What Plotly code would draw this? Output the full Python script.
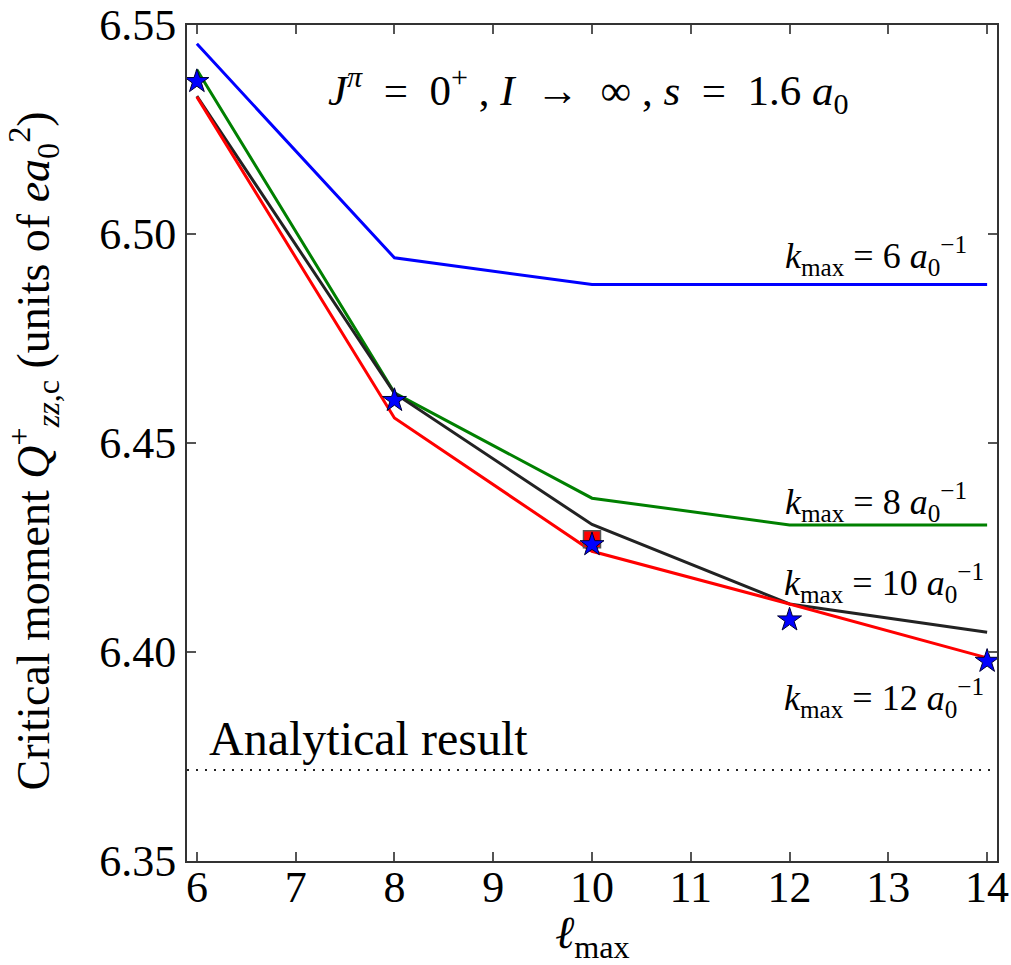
import plotly.graph_objects as go

# ---- data ----
l_max = [6, 8, 10, 12, 14]
k6 = [6.5455, 6.4943, 6.4879, 6.4879, 6.4879]
k8 = [6.5393, 6.4620, 6.4368, 6.4304, 6.4304]
k10 = [6.5330, 6.4619, 6.4305, 6.4115, 6.4047]
k12 = [6.5328, 6.4560, 6.4241, 6.4115, 6.3986]
star_x = [6, 8, 10, 12, 14]
star_y = [6.5365, 6.4602, 6.4257, 6.4077, 6.3978]
square_x = [10]
square_y = [6.4270]
analytical = 6.3718

x_ticks = [6, 7, 8, 9, 10, 11, 12, 13, 14]
y_ticks = [6.35, 6.40, 6.45, 6.50, 6.55]

FONT = "Liberation Serif"
NB = "\u00a0"

fig = go.Figure()
for ys, col in [(k6, "#0000ff"), (k8, "#008000"), (k10, "#222222"), (k12, "#ff0000")]:
    fig.add_trace(go.Scatter(x=l_max, y=ys, mode="lines",
                             line=dict(color=col, width=3), showlegend=False))
fig.add_trace(go.Scatter(x=square_x, y=square_y, mode="markers",
                         marker=dict(symbol="square", size=17, color="#ff0000",
                                     line=dict(color="#555555", width=1.5)),
                         showlegend=False))
fig.add_trace(go.Scatter(x=star_x, y=star_y, mode="markers",
                         marker=dict(symbol="star", size=18, color="#0000ff",
                                     line=dict(color="#000033", width=1)),
                         showlegend=False))

fig.add_hline(y=analytical, line=dict(color="#222222", width=2, dash="2px,7px"))

ann_font = dict(family=FONT, size=36, color="black")
title_txt = (f"<i>J</i><sup><i>π</i></sup>{NB}{NB}={NB}{NB}0<sup>+</sup>{NB},{NB}<i>I</i>{NB}{NB}→{NB}{NB}∞{NB},{NB}"
             f"<i>s</i>{NB}{NB}={NB}{NB}1.6{NB}<i>a</i><sub>0</sub>")
fig.add_annotation(x=0.495, y=0.922, xref="paper", yref="paper",
                   text=title_txt, showarrow=False,
                   font=dict(family=FONT, size=43, color="black"),
                   xanchor="center", yanchor="middle")


def klabel(n):
    return (f"<i>k</i><sub>max</sub> = {n}{NB}<i>a</i><sub>0</sub><sup>−1</sup>")


labels = [
    (klabel(6), 0.965, 0.724),
    (klabel(8), 0.965, 0.430),
    (klabel(10), 0.987, 0.333),
    (klabel(12), 0.987, 0.195),
]
for txt, xp, yp in labels:
    fig.add_annotation(x=xp, y=yp, xref="paper", yref="paper", text=txt,
                       showarrow=False, font=ann_font, xanchor="right", yanchor="middle")
fig.add_annotation(x=0.025, y=0.147, xref="paper", yref="paper",
                   text="Analytical result", showarrow=False,
                   font=dict(family=FONT, size=48, color="black"),
                   xanchor="left", yanchor="middle")

# axis titles as annotations
fig.add_annotation(x=0.5, y=-0.09, xref="paper", yref="paper",
                   text="<i>ℓ</i><sub>max</sub>", showarrow=False,
                   font=dict(family=FONT, size=46, color="black"),
                   xanchor="center", yanchor="middle")
fig.add_annotation(x=-0.19, y=0.49, xref="paper", yref="paper", textangle=-90,
                   text=("Critical moment <i>Q</i><sup>+</sup><sub><i>zz</i>,c</sub> "
                         "(units of <i>ea</i><sub>0</sub><sup>2</sup>)"),
                   showarrow=False, font=dict(family=FONT, size=46, color="black"),
                   xanchor="center", yanchor="middle")

axis_common = dict(showline=True, linecolor="#333333", linewidth=2, mirror="ticks",
                   ticks="inside", ticklen=9, tickwidth=1.5, tickcolor="#555555",
                   showgrid=False, zeroline=False, automargin=False,
                   tickfont=dict(family=FONT, size=44, color="black"))
fig.update_xaxes(range=[5.9, 14.1], tickvals=x_ticks, ticktext=[str(v) for v in x_ticks],
                 ticklabelstandoff=-14, **axis_common)
fig.update_yaxes(range=[6.35, 6.55], tickvals=y_ticks, ticktext=[f"{v:.2f}" for v in y_ticks],
                 ticklabelstandoff=0, **axis_common)

fig.update_layout(width=1011, height=965, margin=dict(l=187, r=14, t=25, b=104),
                  plot_bgcolor="white", paper_bgcolor="white",
                  font=dict(family=FONT, color="black"))
fig.write_html("out.html", config={"displayModeBar": False},
               post_script="document.body.style.margin='0';")
